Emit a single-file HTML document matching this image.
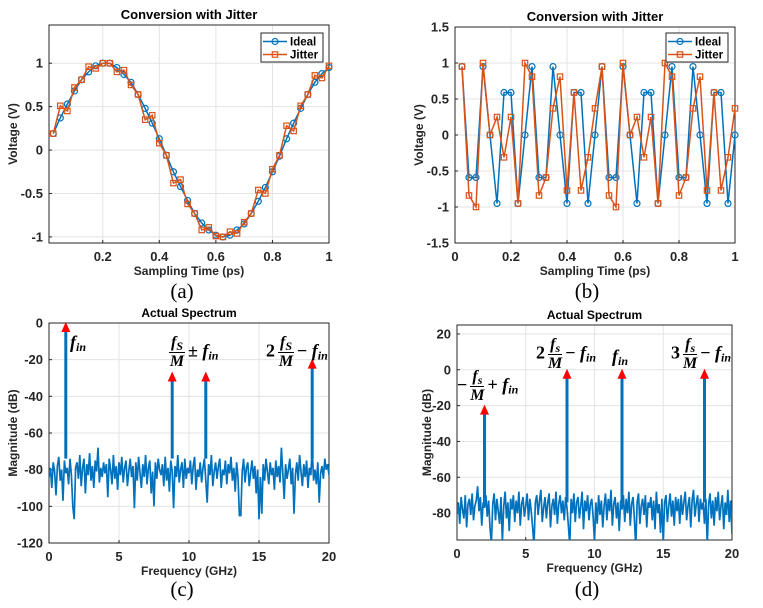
<!DOCTYPE html>
<html><head><meta charset="utf-8">
<style>
body{margin:0;background:#fff;width:763px;height:608px;overflow:hidden;position:relative;font-family:"Liberation Sans",sans-serif}
svg{position:absolute;left:0;top:0}
.m{position:absolute;font-family:"Liberation Serif",serif;font-weight:bold;color:#000;white-space:nowrap;font-size:18px;line-height:1}
.m i{font-style:italic}
.m sub{font-size:12px;font-style:italic;vertical-align:-3px;line-height:0}
.frac{display:inline-flex;flex-direction:column;align-items:center;margin:0 3px;font-size:16px;line-height:1;vertical-align:middle}
.frac .n{border-bottom:1.5px solid #000;padding:0 2px 1px}
.frac .d{padding-top:1px}
.cap{position:absolute;font-family:"Liberation Serif",serif;font-size:21px;transform:translateX(-50%)}
</style></head>
<body>
<svg id="fig" width="763" height="608"></svg>

<div class="cap" style="left:182px;top:279px">(a)</div>
<div class="cap" style="left:587px;top:279px">(b)</div>
<div class="cap" style="left:182px;top:577px">(c)</div>
<div class="cap" style="left:587px;top:577px">(d)</div>

<div class="m" style="left:70px;top:333px"><i>f</i><sub>in</sub></div>
<div class="m" style="left:166px;top:335px"><span class="frac"><i class="n">f<sub>S</sub></i><i class="d">M</i></span>±&nbsp;<i>f</i><sub>in</sub></div>
<div class="m" style="left:266px;top:335px">2<span class="frac"><i class="n">f<sub>S</sub></i><i class="d">M</i></span>−&nbsp;<i>f</i><sub>in</sub></div>

<div class="m" style="left:457px;top:369px">−<span class="frac"><i class="n">f<sub>s</sub></i><i class="d">M</i></span>+&nbsp;<i>f</i><sub>in</sub></div>
<div class="m" style="left:536px;top:337px">2<span class="frac"><i class="n">f<sub>s</sub></i><i class="d">M</i></span>−&nbsp;<i>f</i><sub>in</sub></div>
<div class="m" style="left:612px;top:347px"><i>f</i><sub>in</sub></div>
<div class="m" style="left:671px;top:337px">3<span class="frac"><i class="n">f<sub>s</sub></i><i class="d">M</i></span>−&nbsp;<i>f</i><sub>in</sub></div>

<script>
// ---- data ----
const tA = [0.025,0.05,0.075,0.1,0.125,0.15,0.175,0.2,0.225,0.25,0.275,0.3,0.325,0.35,0.375,0.4,0.425,0.45,0.475,0.5,0.525,0.55,0.575,0.6,0.625,0.65,0.675,0.7,0.725,0.75,0.775,0.8,0.825,0.85,0.875,0.9,0.925,0.95,0.975,1.0];
const idealA = [0.19,0.37,0.53,0.68,0.81,0.90,0.97,1.0,1.0,0.95,0.87,0.78,0.64,0.48,0.31,0.13,-0.06,-0.25,-0.42,-0.58,-0.73,-0.84,-0.92,-0.98,-1.0,-0.98,-0.92,-0.85,-0.73,-0.59,-0.43,-0.25,-0.07,0.13,0.31,0.48,0.64,0.78,0.88,0.95];
const jitterA = [0.19,0.51,0.45,0.72,0.81,0.96,0.94,1.0,1.0,0.90,0.92,0.75,0.64,0.35,0.40,0.08,-0.06,-0.38,-0.34,-0.62,-0.73,-0.92,-0.89,-0.99,-1.0,-0.94,-0.96,-0.83,-0.73,-0.46,-0.50,-0.22,-0.06,0.28,0.22,0.51,0.64,0.86,0.83,0.97];
const tB = tA;
const idealB = [0.95,-0.59,-0.59,0.95,0,-0.95,0.59,0.59,-0.95,0,0.95,-0.59,-0.59,0.95,0,-0.95,0.59,0.59,-0.95,0,0.95,-0.59,-0.59,0.95,0,-0.95,0.59,0.59,-0.95,0,0.95,-0.59,-0.59,0.95,0,-0.95,0.59,0.59,-0.95,0];
const jitterB = [0.95,-0.84,-1.0,1.0,0,0.25,-0.31,0.25,-0.95,1.0,0.81,-0.84,-0.59,0.37,0.81,-0.77,0.59,-0.77,-0.31,0.37,0.95,-0.84,-1.0,1.0,0,0.25,-0.31,0.25,-0.95,1.0,0.81,-0.84,-0.59,0.37,0.81,-0.77,0.59,-0.77,-0.31,0.37];
const noiseC = [-84,-79,-90,-76,-81,-94,-78,-73,-86,-80,-97,-75,-82,-79,-88,-74,-83,-100,-107,-79,
-76,-85,-72,-89,-79,-74,-93,-77,-83,-71,-86,-78,-90,-75,-81,-68,-87,-79,-84,-76,
-82,-77,-95,-74,-80,-88,-72,-85,-78,-91,-76,-83,-73,-87,-79,-75,-89,-81,-74,-84,
-78,-101,-76,-86,-73,-82,-90,-77,-84,-72,-88,-79,-75,-93,-81,-100,-76,-85,-74,-80,
-83,-77,-89,-73,-86,-79,-92,-75,-81,-101,-78,-84,-72,-87,-80,-76,-90,-74,-85,-79,
-82,-75,-88,-78,-73,-91,-80,-84,-76,-87,-79,-74,-86,-98,-77,-83,-72,-89,-81,-76,
-85,-78,-74,-90,-80,-83,-75,-88,-77,-82,-73,-86,-79,-92,-76,-84,-105,-105,-81,-74,
-87,-79,-76,-89,-82,-75,-85,-78,-93,-80,-107,-84,-104,-77,-86,-74,-81,-88,-76,-83,
-79,-91,-75,-84,-78,-87,-68,-82,-96,-77,-85,-80,-74,-88,-79,-104,-83,-76,-86,-72,
-81,-89,-77,-84,-75,-90,-79,-83,-69,-86,-80,-88,-76,-98,-82,-78,-85,-74,-80,-77,-83];
const noiseD = [-80,-74,-86,-71,-78,-83,-70,-88,-75,-72,-81,-69,-84,-76,-73,-65,-79,-71,-87,-74,
-77,-70,-82,-73,-88,-97,-75,-69,-84,-72,-79,-86,-71,-96,-76,-68,-83,-74,-90,-72,
-78,-70,-85,-73,-80,-68,-87,-75,-71,-82,-76,-69,-84,-72,-79,-88,-98,-74,-70,-81,
-73,-67,-85,-77,-71,-83,-74,-69,-88,-76,-72,-81,-68,-86,-75,-70,-80,-73,-84,-71,
-77,-87,-98,-72,-80,-69,-85,-74,-71,-83,-76,-68,-89,-73,-79,-70,-84,-75,-72,-82,
-96,-74,-86,-70,-81,-73,-88,-76,-69,-84,-72,-79,-67,-87,-75,-71,-83,-74,-90,-73,
-78,-70,-85,-72,-80,-68,-87,-75,-71,-83,-99,-74,-69,-86,-76,-72,-81,-70,-88,-74,
-77,-71,-84,-73,-89,-68,-80,-75,-91,-72,-97,-74,-70,-85,-76,-69,-82,-73,-87,-71,
-79,-72,-86,-70,-81,-74,-68,-84,-76,-71,-88,-73,-67,-82,-75,-70,-85,-72,-78,-74,
-86,-72,-98,-75,-69,-83,-73,-87,-71,-79,-68,-84,-76,-70,-89,-74,-81,-67,-85,-73,-92];
const spikeFreqC = [1.2,8.8,11.2,18.8];
const spikeMagC = [0,-27,-27,-20];
const spikeFreqD = [2,8,12,18];
const spikeMagD = [-20,0,0,0];

const NS='http://www.w3.org/2000/svg';
const svg=document.getElementById('fig');
function el(tag,attrs,parent){const e=document.createElementNS(NS,tag);for(const k in attrs)e.setAttribute(k,attrs[k]);(parent||svg).appendChild(e);return e;}
function txt(s,attrs,parent){const e=el('text',attrs,parent);e.textContent=s;return e;}

function axes(id,b,xl,yl,xt,yt,xfmt,yfmt,title,xlab,ylab){
  const g=el('g',{});
  
  
  const X=v=>b.l+(v-xl[0])/(xl[1]-xl[0])*(b.r-b.l);
  const Y=v=>b.b-(v-yl[0])/(yl[1]-yl[0])*(b.b-b.t);
  el('rect',{x:b.l,y:b.t,width:b.r-b.l,height:b.b-b.t,fill:'#fff'},g);
  xt.forEach(v=>{el('line',{x1:X(v),x2:X(v),y1:b.t,y2:b.b,stroke:'#e3e3e3','stroke-width':1},g);});
  yt.forEach(v=>{el('line',{x1:b.l,x2:b.r,y1:Y(v),y2:Y(v),stroke:'#e3e3e3','stroke-width':1},g);});
  xt.forEach(v=>{
    el('line',{x1:X(v),x2:X(v),y1:b.b,y2:b.b-3,stroke:'#262626'},g);
    const t=txt(xfmt(v),{x:X(v),y:b.b+18,'text-anchor':'middle','font-size':13,'font-weight':'bold',fill:'#262626'},g);
    
    
  });
  yt.forEach(v=>{
    el('line',{x1:b.l,x2:b.l+3,y1:Y(v),y2:Y(v),stroke:'#262626'},g);
    const t=txt(yfmt(v),{x:b.l-6,y:Y(v)+4.5,'text-anchor':'end','font-size':13,'font-weight':'bold',fill:'#262626'},g);
    
    
  });
  el('rect',{x:b.l,y:b.t,width:b.r-b.l,height:b.b-b.t,fill:'none',stroke:'#262626','stroke-width':1},g);
  const tt=txt(title,{x:(b.l+b.r)/2,y:b.t-6,'text-anchor':'middle','font-size':title.length>18?13:12,'font-weight':'bold',fill:'#000'},g);
  
  
  const xlb=txt(xlab,{x:(b.l+b.r)/2,y:b.b+32,'text-anchor':'middle','font-size':12,'font-weight':'bold',fill:'#262626'},g);
  
  
  const yx=ylab.x, yy=(b.t+b.b)/2;
  const ylb=txt(ylab.s,{x:yx,y:yy,'text-anchor':'middle','font-size':12,'font-weight':'bold',fill:'#262626',transform:`rotate(-90 ${yx} ${yy})`},g);
  
  
  return {X,Y,g};
}
const BLUE='#0072BD', ORANGE='#D95319';
function series(ax,xs,ys,color,marker,name){
  const g=el('g',{},ax.g);
  
  
  el('polyline',{points:xs.map((x,i)=>ax.X(x)+','+ax.Y(ys[i])).join(' '),fill:'none',stroke:color,'stroke-width':1.5},g);
  xs.forEach((x,i)=>{
    const cx=ax.X(x),cy=ax.Y(ys[i]);
    if(marker==='o') el('circle',{cx,cy,r:3,fill:'none',stroke:color,'stroke-width':1.2},g);
    else el('rect',{x:cx-2.7,y:cy-2.7,width:5.4,height:5.4,fill:'none',stroke:color,'stroke-width':1.2},g);
  });
}
function legend(ax,x,y,name){
  const g=el('g',{},ax.g);
  
  
  el('rect',{x,y,width:62,height:29,fill:'#fff',stroke:'#262626','stroke-width':1},g);
  [[BLUE,'o','Ideal'],[ORANGE,'s','Jitter']].forEach((e,i)=>{
    const yy=y+8.5+i*13;
    el('line',{x1:x+2,x2:x+26,y1:yy,y2:yy,stroke:e[0],'stroke-width':1.5},g);
    if(e[1]==='o') el('circle',{cx:x+14,cy:yy,r:3,fill:'none',stroke:e[0],'stroke-width':1.2},g);
    else el('rect',{x:x+11.3,y:yy-2.7,width:5.4,height:5.4,fill:'none',stroke:e[0],'stroke-width':1.2},g);
    const t=txt(e[2],{x:x+29,y:yy+4,'font-size':11.5,'font-weight':'bold',fill:'#000'},g);
    
    
  });
}
function drawSpec(ax,b,noise,sf,sm,xmax,name){
  const g=el('g',{},ax.g);
  
  
  const cp='clip-'+name;
  const c=el('clipPath',{id:cp},g);
  el('rect',{x:b.l,y:b.t,width:b.r-b.l,height:b.b-b.t},c);
  const n=noise.length-1;
  el('polyline',{points:noise.map((v,i)=>ax.X(i*xmax/n)+','+ax.Y(v)).join(' '),fill:'none',stroke:BLUE,'stroke-width':1.7,'clip-path':`url(#${cp})`},g);
  sf.forEach((f,i)=>{
    const s=el('line',{x1:ax.X(f),x2:ax.X(f),y1:ax.Y(-74),y2:ax.Y(sm[i])+4,stroke:BLUE,'stroke-width':3},g);
    
    
    const x=ax.X(f),y=ax.Y(sm[i]);
    const a=el('polygon',{points:`${x},${y-1} ${x-4.5},${y+9} ${x+4.5},${y+9}`,fill:'#FF0000'},g);
    
    
  });
}
const f1=v=>String(Math.round(v*10)/10);
// (a)
const bA={l:49,r:329,t:25,b:243};
const axA=axes('plot-a',bA,[0.01,1.0],[-1.07,1.44],[0.2,0.4,0.6,0.8,1],[-1,-0.5,0,0.5,1],f1,f1,'Conversion with Jitter','Sampling Time (ps)',{s:'Voltage (V)',x:17});
series(axA,tA,idealA,BLUE,'o','series-ideal-a');
series(axA,tA,jitterA,ORANGE,'s','series-jitter-a');
legend(axA,261,33,'legend-a');
// (b)
const bB={l:455,r:735,t:27,b:243};
const axB=axes('plot-b',bB,[0,1],[-1.5,1.5],[0,0.2,0.4,0.6,0.8,1],[-1.5,-1,-0.5,0,0.5,1,1.5],f1,f1,'Conversion with Jitter','Sampling Time (ps)',{s:'Voltage (V)',x:423});
series(axB,tB,idealB,BLUE,'o','series-ideal-b');
series(axB,tB,jitterB,ORANGE,'s','series-jitter-b');
legend(axB,666,33,'legend-b');
// (c)
const bC={l:49,r:329,t:323,b:543};
const axC=axes('plot-c',bC,[0,20],[-120,0],[0,5,10,15,20],[-120,-100,-80,-60,-40,-20,0],f1,f1,'Actual Spectrum','Frequency (GHz)',{s:'Magnitude (dB)',x:17});
drawSpec(axC,bC,noiseC,spikeFreqC,spikeMagC,20,'spectrum-c');
// (d)
const bD={l:457,r:732,t:325,b:540};
const axD=axes('plot-d',bD,[0,20],[-95,25],[0,5,10,15,20],[-80,-60,-40,-20,0,20],f1,f1,'Actual Spectrum','Frequency (GHz)',{s:'Magnitude (dB)',x:431});
drawSpec(axD,bD,noiseD,spikeFreqD,spikeMagD,20,'spectrum-d');
</script>
</body></html>
